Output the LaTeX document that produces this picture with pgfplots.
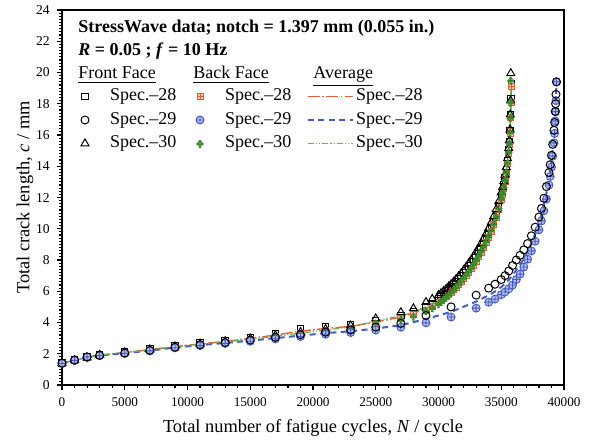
\documentclass[border=0pt]{standalone}
\usepackage{fontspec}
\setmainfont{Liberation Serif}
\usepackage{pgfplots}
\usepackage{pgfplotstable}
\pgfplotsset{compat=1.18}
\definecolor{orng}{RGB}{228,96,58}
\definecolor{blu}{RGB}{70,92,196}
\definecolor{grn}{RGB}{58,138,40}
\definecolor{lgrn}{RGB}{100,180,80}

\pgfdeclareplotmark{club}{%
  \pgfpathcircle{\pgfqpoint{0pt}{0.45\pgfplotmarksize}}{0.42\pgfplotmarksize}%
  \pgfpathcircle{\pgfqpoint{-0.45\pgfplotmarksize}{-0.12\pgfplotmarksize}}{0.42\pgfplotmarksize}%
  \pgfpathcircle{\pgfqpoint{0.45\pgfplotmarksize}{-0.12\pgfplotmarksize}}{0.42\pgfplotmarksize}%
  \pgfpathmoveto{\pgfqpoint{0pt}{0pt}}%
  \pgfpathlineto{\pgfqpoint{-0.35\pgfplotmarksize}{-\pgfplotmarksize}}%
  \pgfpathlineto{\pgfqpoint{0.35\pgfplotmarksize}{-\pgfplotmarksize}}%
  \pgfpathclose
  \pgfusepathqfill}
\pgfdeclareplotmark{sqplus}{%
  \pgfpathrectangle{\pgfqpoint{-\pgfplotmarksize}{-\pgfplotmarksize}}{\pgfqpoint{2\pgfplotmarksize}{2\pgfplotmarksize}}%
  \pgfusepathqfillstroke
  \pgfpathmoveto{\pgfqpoint{-\pgfplotmarksize}{0pt}}%
  \pgfpathlineto{\pgfqpoint{\pgfplotmarksize}{0pt}}%
  \pgfpathmoveto{\pgfqpoint{0pt}{-\pgfplotmarksize}}%
  \pgfpathlineto{\pgfqpoint{0pt}{\pgfplotmarksize}}%
  \pgfusepathqstroke}

% Spec-28: N, front, back, average
\pgfplotstableread{
N F B A
0 1.40 1.38 1.39
1000 1.60 1.58 1.59
2000 1.78 1.76 1.77
3000 1.92 1.88 1.90
5000 2.10 2.05 2.08
7000 2.30 2.22 2.26
9000 2.50 2.42 2.46
11000 2.68 2.58 2.63
13000 2.85 2.72 2.79
15000 3.05 2.90 2.98
17000 3.30 3.10 3.20
19000 3.58 3.30 3.44
21000 3.75 3.48 3.62
23000 3.85 3.65 3.75
25000 4.10 3.95 4.03
27000 4.45 4.25 4.35
28000 4.70 4.50 4.60
29000 5.00 4.80 4.90
29500 5.20 5.00 5.10
30000 5.50 5.30 5.40
30200 5.62 5.42 5.52
30400 5.74 5.54 5.64
30600 5.87 5.67 5.77
30800 6.01 5.81 5.91
31000 6.15 5.95 6.05
31200 6.30 6.10 6.20
31400 6.46 6.26 6.36
31600 6.63 6.43 6.53
31800 6.81 6.61 6.71
32000 7.00 6.80 6.90
32200 7.20 7.00 7.10
32400 7.41 7.21 7.31
32600 7.64 7.44 7.54
32800 7.88 7.68 7.78
33000 8.13 7.93 8.03
33200 8.40 8.20 8.30
33400 8.68 8.48 8.58
33600 8.98 8.78 8.88
33800 9.30 9.10 9.20
34000 9.65 9.45 9.55
34200 10.03 9.83 9.93
34400 10.45 10.25 10.35
34600 10.92 10.72 10.82
34800 11.45 11.25 11.35
35000 12.05 11.85 11.95
35100 12.40 12.20 12.30
35200 12.80 12.60 12.70
35300 13.25 13.05 13.15
35400 13.75 13.55 13.65
35500 14.35 14.15 14.25
35600 15.05 14.85 14.95
35650 15.60 15.40 15.50
35700 16.30 16.10 16.20
35750 17.30 17.10 17.20
35780 18.30 18.10 18.20
35800 19.30 19.10 19.20
}\tabA

% Spec-29
\pgfplotstableread{
N F B A
0 1.40 1.38 1.39
1000 1.60 1.58 1.59
2000 1.80 1.80 1.80
3000 1.90 1.88 1.89
5000 2.05 2.02 2.04
7000 2.22 2.18 2.20
9000 2.42 2.38 2.40
11000 2.58 2.52 2.55
13000 2.72 2.66 2.69
15000 2.88 2.80 2.84
17000 3.05 2.95 3.00
19000 3.22 3.10 3.16
21000 3.38 3.25 3.32
23000 3.52 3.36 3.44
25000 3.70 3.52 3.61
27000 3.95 3.70 3.83
29000 4.45 3.98 4.22
31000 5.00 4.35 4.68
33000 5.75 4.92 5.34
34000 6.20 5.30 5.75
34500 6.45 5.50 5.98
35000 6.75 5.78 6.27
35300 7.00 5.95 6.48
35600 7.30 6.15 6.73
35900 7.65 6.40 7.03
36200 8.00 6.75 7.38
36500 8.30 7.10 7.70
36800 8.65 7.55 8.10
37100 9.05 8.05 8.55
37400 9.55 8.58 9.07
37700 10.10 9.20 9.65
38000 10.75 9.93 10.34
38200 11.30 10.50 10.90
38400 11.95 11.15 11.55
38600 12.70 11.90 12.30
38800 13.60 12.80 13.20
38900 14.10 13.35 13.73
39000 14.70 13.95 14.33
39100 15.40 14.65 15.03
39200 16.30 15.50 15.90
39250 16.80 16.10 16.45
39300 17.50 16.90 17.20
39330 18.00 17.50 17.75
39360 18.60 18.20 18.40
39400 19.40 19.40 19.40
}\tabB

% Spec-30
\pgfplotstableread{
N F B A
0 1.40 1.38 1.39
1000 1.58 1.58 1.58
2000 1.75 1.75 1.75
3000 1.92 1.90 1.91
5000 2.08 2.05 2.07
7000 2.27 2.22 2.25
9000 2.47 2.42 2.45
11000 2.64 2.58 2.61
13000 2.80 2.72 2.76
15000 2.97 2.88 2.93
17000 3.18 3.05 3.12
19000 3.38 3.25 3.32
21000 3.58 3.45 3.52
23000 3.80 3.62 3.71
25000 4.25 3.95 4.10
27000 4.65 4.20 4.43
28000 4.90 4.40 4.65
29000 5.30 4.75 5.03
29500 5.50 4.95 5.23
30000 5.75 5.20 5.48
30200 5.87 5.35 5.61
30400 6.00 5.50 5.75
30600 6.14 5.64 5.89
30800 6.29 5.79 6.04
31000 6.44 5.94 6.19
31200 6.60 6.10 6.35
31400 6.77 6.27 6.52
31600 6.95 6.45 6.70
31800 7.14 6.64 6.89
32000 7.34 6.84 7.09
32200 7.55 7.05 7.30
32400 7.77 7.27 7.52
32600 8.00 7.50 7.75
32800 8.25 7.75 8.00
33000 8.51 8.01 8.26
33200 8.78 8.28 8.53
33400 9.07 8.57 8.82
33600 9.37 8.87 9.12
33800 9.69 9.19 9.44
34000 10.03 9.53 9.78
34200 10.40 9.90 10.15
34400 10.80 10.32 10.56
34600 11.25 10.79 11.02
34800 11.75 11.32 11.54
35000 12.32 11.92 12.12
35100 12.65 12.27 12.46
35200 13.03 12.67 12.85
35300 13.45 13.12 13.29
35400 13.93 13.62 13.78
35500 14.50 14.22 14.36
35600 15.15 14.92 15.04
35650 15.65 15.47 15.56
35700 16.35 16.17 16.26
35720 17.30 17.10 17.20
35740 18.20 18.10 18.15
35760 19.95 19.50 19.73
}\tabC

\pgfplotsset{
  legmark/.style={legend image code/.code={\path[draw=none] (-5pt,0pt) (12.5pt,0pt); \draw[##1] plot coordinates {(0pt,0pt)};}},
  legline/.style={legend image code/.code={\draw[##1] (0pt,0pt) -- (22.5pt,0pt); \path[draw=none] (24pt,0pt);}},
  f28/.style={black, mark=square, mark size=1.6pt, line width=0.5pt, only marks},
  f29/.style={black, mark=o, mark size=2pt, line width=0.5pt, only marks},
  f30/.style={black, mark=triangle, mark size=2.3pt, line width=0.5pt, only marks},
  b28/.style={orng, mark=sqplus, mark size=1.5pt, line width=0.45pt, only marks, mark options={fill=orng!40, draw=orng}},
  b29/.style={blu, mark=oplus*, mark size=2pt, line width=0.45pt, only marks, mark options={fill=blu!40, draw=blu}},
  b30/.style={grn, mark=club, mark size=2.2pt, only marks, mark options={fill=grn}},
  a28/.style={orng, line width=0.7pt, dash pattern=on 6pt off 1.2pt on 0.8pt off 1.2pt, mark=none},
  a29/.style={blu, line width=1pt, dash pattern=on 3pt off 2.2pt, mark=none},
  a30/.style={lgrn, line width=0.6pt, dash pattern=on 3pt off 1pt on 0.6pt off 1pt on 0.6pt off 1pt, mark=none},
}

\begin{document}
\begin{tikzpicture}
\begin{axis}[
  name=ax,
  scale only axis,
  width=251pt, height=187.5pt,
  xmin=0, xmax=40000, ymin=0, ymax=24,
  xtick={0,5000,...,40000},
  ytick={0,2,...,24},
  minor x tick num=4,
  minor y tick num=9,
  xtick pos=bottom, ytick pos=left,
  tick align=outside,
  major tick length=2.6pt,
  minor tick length=1.5pt,
  axis line style={line width=0.8pt},
  every tick/.style={black, line width=0.6pt},
  minor tick style={line width=0.6pt},
  scaled x ticks=false,
  /pgf/number format/assume math mode=true,
  xticklabel style={/pgf/number format/1000 sep={}, font=\fontsize{6.6}{7}\selectfont},
  yticklabel style={font=\fontsize{6.8}{7}\selectfont},
  xlabel={Total number of fatigue cycles, \textit{N} / cycle},
  ylabel={Total crack length, \textit{c} / mm},
  label style={font=\fontsize{9.2}{11}\selectfont},
  xlabel style={at={(axis description cs:0.5,-0.1147)}, anchor=center},
  ylabel style={at={(axis description cs:-0.0737,0.5)}, anchor=center},
  legend columns=3,
  legend cell align=left,
  legend style={at={(rel axis cs:0.0259,0.792)}, anchor=north west, draw=none, fill=none,
    inner sep=0pt, outer sep=0pt, column sep=0pt, row sep=3.25pt,
    nodes={inner sep=0pt, text height=6.5pt, text depth=2pt, font=\fontsize{9}{10}\selectfont}},
]
\addplot[f28, forget plot] table[x=N, y=F] {\tabA};
\addplot[b28, forget plot] table[x=N, y=B] {\tabA};
\addplot[f30, forget plot] table[x=N, y=F] {\tabC};
\addplot[b30, forget plot] table[x=N, y=B] {\tabC};
\addplot[b29, forget plot] table[x=N, y=B] {\tabB};
\addplot[f29, forget plot] table[x=N, y=F] {\tabB};
\addplot[a28, forget plot] table[x=N, y=A] {\tabA};
\addplot[a29, forget plot] table[x=N, y=A] {\tabB};
\addplot[a30, forget plot] table[x=N, y=A] {\tabC};
\addlegendimage{f28, legmark}\addlegendentry{\makebox[40pt][l]{Spec.--28}}
\addlegendimage{b28, legmark}\addlegendentry{\makebox[41pt][l]{Spec.--28}}
\addlegendimage{a28, legline}\addlegendentry{Spec.--28}
\addlegendimage{f29, legmark}\addlegendentry{\makebox[40pt][l]{Spec.--29}}
\addlegendimage{b29, legmark}\addlegendentry{\makebox[41pt][l]{Spec.--29}}
\addlegendimage{a29, legline}\addlegendentry{Spec.--29}
\addlegendimage{f30, legmark}\addlegendentry{\makebox[40pt][l]{Spec.--30}}
\addlegendimage{b30, legmark}\addlegendentry{\makebox[41pt][l]{Spec.--30}}
\addlegendimage{a30, legline}\addlegendentry{Spec.--30}
\end{axis}
\begin{scope}[every node/.style={inner sep=0pt, anchor=base west, font=\fontsize{9}{10}\selectfont}]
\node at ([xshift=8pt, yshift=-11.5pt]ax.north west) {\textbf{StressWave data; notch = 1.397 mm (0.055 in.)}};
\node at ([xshift=8pt, yshift=-23pt]ax.north west) {\textbf{\textit{R} = 0.05 ; \textit{f} = 10 Hz}};
\node at ([xshift=8pt, yshift=-34.5pt]ax.north west) {\underline{Front Face}};
\node at ([xshift=65.5pt, yshift=-34.5pt]ax.north west) {\underline{Back Face}};
\node at ([xshift=125.5pt, yshift=-34.5pt]ax.north west) {\underline{Average}};
\end{scope}
\pgfresetboundingbox
\path ([shift={(-31pt,-29pt)}]ax.south west) rectangle ([shift={(18pt,5pt)}]ax.north east);
\end{tikzpicture}
\end{document}
